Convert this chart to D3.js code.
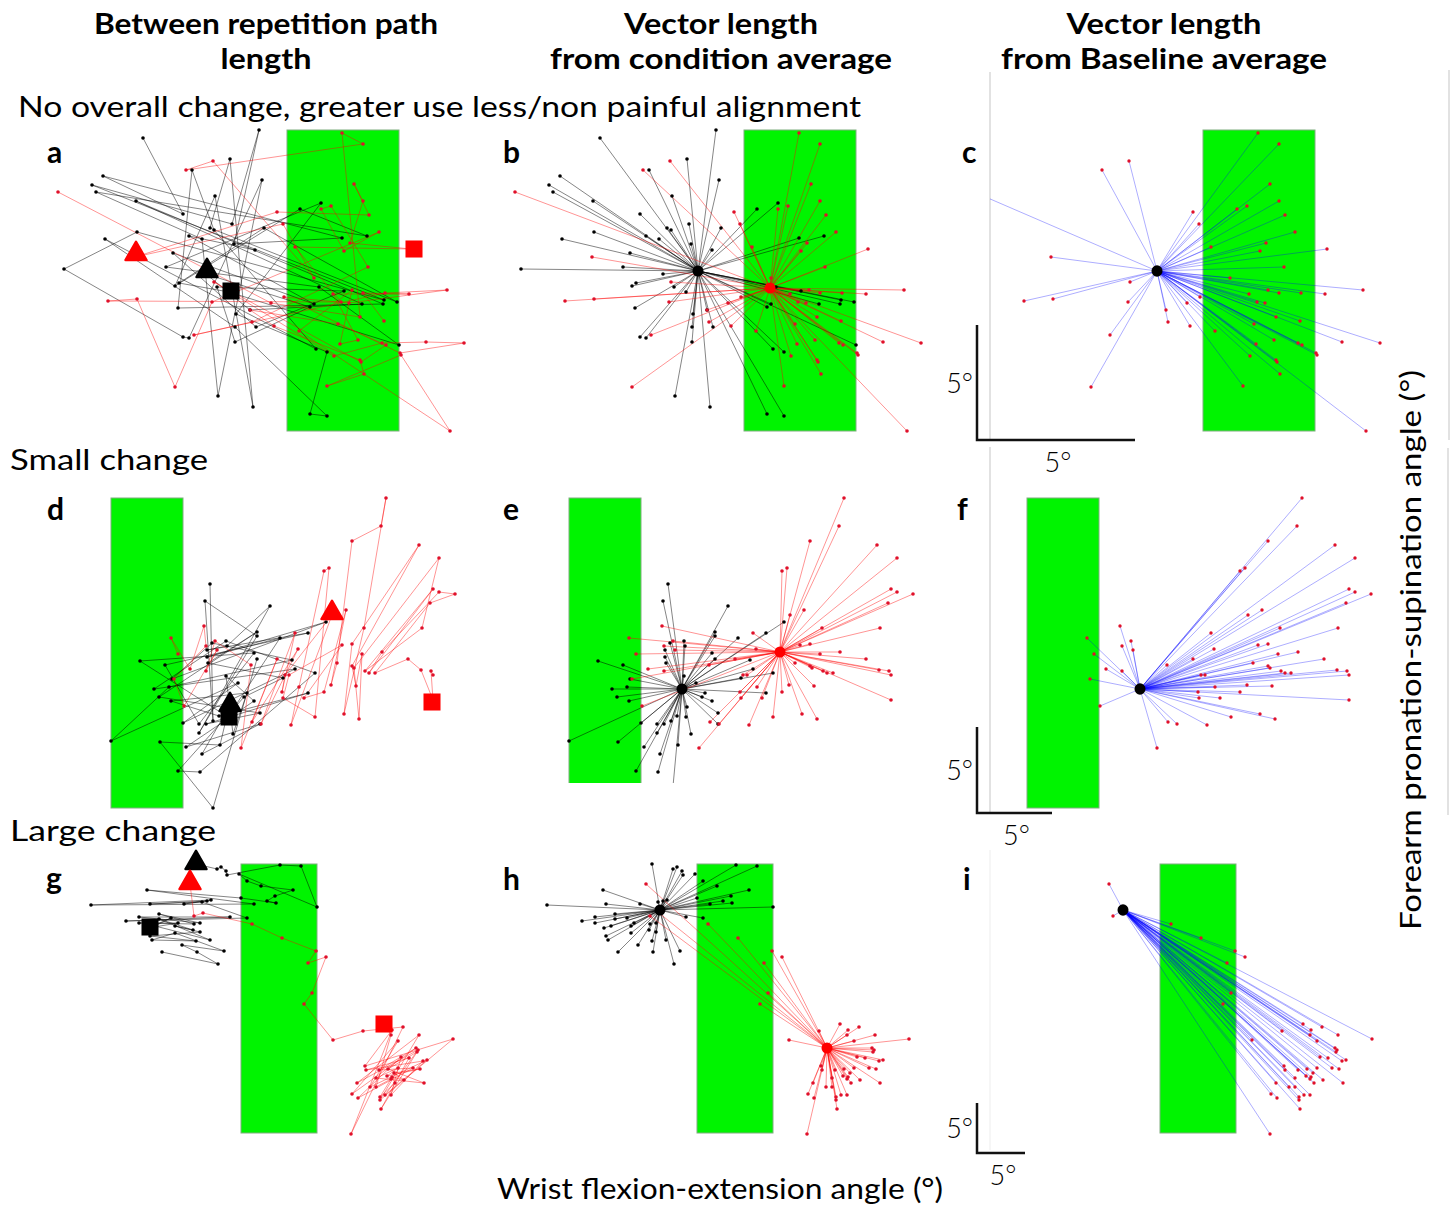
<!DOCTYPE html>
<meta charset="utf-8">
<style>
  body { margin: 0; background: #fff; }
  text { font-family: Lato, "Open Sans", sans-serif; }
</style>
<svg width="1451" height="1206"></svg>

<script src="https://d3js.org/d3.v7.min.js"></script>
<script>
// joint angles per repetition, chart units (x: flexion-extension, y: pronation-supination)
// listed in repetition order, so the path panels follow them point to point

// row 1: no overall change
var row1Black = [
  [10.0,1.3],[14.0,8.9],[6.0,5.1],[29.9,11.3],[19.1,11.9],[21.6,0.5],[18.9,9.9],[4.9,6.0],
  [34.1,17.5],[9.4,10.7],[2.1,14.4],[14.0,21.2],[14.6,21.3],[21.9,5.5],[17.5,27.1],[15.9,11.4],
  [5.3,6.7],[32.4,11.1],[25.7,8.4],[13.2,16.1],[17.2,7.1],[21.0,28.2],[18.7,3.4],[16.7,10.3],
  [35.4,17.7],[22.1,10.3],[13.6,15.8],[18.6,16.7],[35.6,22.0],[27.6,16.2],[12.3,14.2],[27.8,7.8],
  [19.3,18.9],[28.4,22.7],[26.7,28.9],[28.4,29.1],[19.2,20.2],[6.2,11.4],[27.3,22.4],[17.1,10.5],
  [14.9,4.5],[13.5,18.3],[34.0,17.9],[9.3,7.6],[31.9,17.9],[20.7,18.5],[16.3,14.9],[26.7,18.2],
  [19.2,21.7],[17.4,16.2],[30.1,16.6],[21.3,20.2],[13.0,12.8],[27.1,17.9],[14.6,11.1],[21.2,12.5]
]
var row1Red = [
  [1.5,6.7],[22.8,17.8],[31.7,19.2],[29.9,0.8],[32.0,1.9],[14.3,4.5],[17.0,3.6],[27.1,15.3],
  [24.0,9.9],[9.2,13.2],[23.4,8.7],[32.6,9.0],[31.1,5.9],[32.0,7.6],[30.7,11.8],[36.8,12.4],
  [25.2,12.2],[29.8,17.7],[6.5,17.6],[9.4,17.4],[13.2,26.2],[16.9,17.7],[33.6,10.7],[30.1,12.6],
  [27.8,8.4],[28.8,8.1],[32.5,14.2],[20.9,19.7],[15.1,21.0],[34.2,16.8],[40.4,16.5],[30.6,17.8],
  [24.1,17.2],[35.7,22.8],[42.1,21.8],[38.3,21.7],[33.9,21.8],[29.1,23.1],[17.1,15.7],[31.8,23.7],
  [34.3,22.0],[29.5,19.9],[20.7,18.5],[23.1,20.1],[31.7,23.5],[32.1,24.9],[28.4,26.1],[35.8,23.0],
  [40.7,30.6],[25.6,20.6],[30.9,16.5],[29.7,21.9],[31.5,21.5],[29.0,16.9],[36.6,16.9],[32.0,16.8],
  [34.1,19.6]
]
var row1Means = [[19.8,14.6],[27.0,16.3]]          // baseline (black), painful condition (red)
var row1Zone = [24.4,35.6,0.5,30.6]                // x0, x1, y0, y1 of the painful alignment
var row1Markers = [["red","triangle",9.3,12.9],["black","triangle",16.4,14.6],
                   ["black","square",18.8,16.6],["red","square",37.1,12.4]]
var row1Bar = [15.8,11.5]                          // 5 degrees in chart units (x, y)

// row 2: small change
var row2Black = [
  [16.8,9.4],[17.1,23.1],[16.3,11.1],[21.5,14.6],[15.7,24.3],[22.8,11.6],[18.5,15.6],[16.5,16.0],
  [26.6,14.3],[12.3,17.5],[15.7,23.4],[21.2,16.3],[9.8,17.1],[18.6,22.7],[23.8,14.8],[16.5,16.7],
  [28.4,13.2],[13.0,18.9],[17.0,15.3],[25.0,17.0],[12.7,19.7],[6.9,25.1],[19.6,19.3],[14.1,23.3],
  [25.3,17.9],[11.2,19.9],[18.4,15.1],[27.3,18.3],[15.8,28.2],[13.6,28.1],[20.2,20.7],[24.1,18.8],
  [16.6,17.3],[21.5,14.2],[11.7,20.7],[21.8,22.3],[16.4,23.4],[26.6,20.3],[17.7,22.6],[12.9,21.1],
  [20.5,20.3],[19.1,24.4],[18.4,18.6],[21.2,21.1],[14.4,25.7],[21.8,23.4],[16.0,26.4],[18.7,21.7],
  [17.8,25.5],[11.8,25.2],[17.1,31.8],[21.5,16.9]
]
var row2Red = [
  [13.6,16.4],[12.9,14.8],[14.8,17.9],[16.2,13.6],[16.4,15.6],[13.2,18.9],[14.2,21.6],[17.5,16.0],
  [16.4,18.1],[17.3,15.1],[20.9,17.5],[19.9,25.8],[23.5,16.9],[21.0,23.2],[25.6,15.9],[21.9,23.4],
  [25.3,14.3],[24.0,20.2],[24.3,18.5],[29.0,12.5],[24.9,23.5],[25.7,19.7],[28.2,8.1],[28.7,7.8],
  [27.3,22.7],[24.1,20.8],[24.7,18.5],[30.0,15.5],[26.2,20.8],[28.2,20.2],[30.4,12.0],[28.9,19.5],
  [29.5,17.3],[31.0,5.1],[33.9,3.6],[34.4,0.8],[32.2,13.8],[30.2,22.4],[31.0,15.4],[37.7,5.5],
  [31.0,17.6],[31.4,19.6],[32.0,16.4],[31.7,22.9],[31.2,17.8],[39.7,6.8],[38.0,13.8],[32.3,18.1],
  [39.1,9.9],[32.7,18.3],[34.0,16.2],[39.7,10.2],[41.3,10.4],[38.8,11.3],[33.3,18.3],[36.6,16.9],
  [37.9,18.0],[39.1,21.0],[38.9,18.1],[39.1,18.5]
]
var row2Means = [[18.2,19.9],[28.0,16.2]]
var row2Zone = [6.9,14.1,0.8,31.8]
var row2Markers = [["red","triangle",29.0,12.3],["red","square",39.0,21.2],
                   ["black","triangle",18.8,21.5],["black","square",18.7,22.7]]
var row2Bar = [7.5,8.6]

// row 3: large change
var row3Black = [
  [15.2,0.9],[17.3,1.4],[17.7,1.2],[18.2,1.6],[18.3,2.0],[23.6,1.0],[25.7,1.1],[27.3,5.2],
  [19.5,1.9],[20.3,2.6],[21.7,3.1],[24.9,3.5],[23.1,4.1],[22.3,4.6],[23.2,4.8],[19.7,4.3],
  [10.3,3.5],[21.0,4.9],[4.7,5.0],[16.7,4.5],[14.0,4.9],[16.3,4.6],[10.6,4.9],[15.8,4.7],
  [20.3,6.3],[8.2,6.6],[18.6,6.2],[9.5,6.2],[15.6,6.8],[11.5,5.9],[15.0,6.9],[9.5,6.8],
  [13.4,6.8],[10.4,7.3],[12.7,6.3],[11.1,7.1],[16.6,8.5],[11.5,6.4],[14.9,7.5],[13.1,7.1],
  [15.6,7.7],[10.6,8.1],[15.2,8.6],[10.8,8.5],[13.1,7.8],[18.0,9.6],[13.8,9.0],[15.3,9.7],
  [17.4,10.9],[11.8,9.7]
]
var row3Red = [
  [14.6,2.9],[15.0,6.1],[15.9,5.8],[20.8,6.9],[23.8,8.3],[27.2,9.6],[26.4,10.8],[28.2,10.2],
  [26.8,13.8],[26.0,14.9],[28.9,18.5],[31.9,17.6],[35.9,17.2],[30.7,27.9],[34.8,17.5],[32.1,21.1],
  [40.9,18.4],[33.6,24.5],[37.5,18.0],[31.3,22.8],[37.4,19.5],[34.1,24.0],[38.3,20.5],[32.6,23.2],
  [35.4,18.6],[30.8,23.9],[37.2,19.3],[33.5,21.5],[36.9,21.3],[31.4,24.3],[35.7,20.2],[34.7,24.0],
  [37.9,20.6],[32.2,21.5],[36.5,20.3],[33.7,25.4],[37.3,19.7],[34.4,21.4],[38.0,22.8],[33.2,22.3],
  [35.4,21.3],[34.3,22.1],[37.6,21.4],[35.0,21.8],[36.0,22.5],[34.8,22.2],[35.1,22.8],[33.6,24.2],
  [34.7,22.4],[33.2,23.2],[34.7,18.0],[34.0,16.9]
]
var row3Means = [[16.0,5.5],[32.7,19.3]]
var row3Zone = [19.7,27.3,0.9,27.8]
var row3Markers = [["black","triangle",15.2,0.8],["red","triangle",14.6,2.8],
                   ["black","square",10.6,7.2],["red","square",34.0,16.9]]
var row3Bar = [4.8,5.0]

var columnTitles = [["Between repetition path", "length"],
                    ["Vector length", "from condition average"],
                    ["Vector length", "from Baseline average"]]
var rowTitles = ["No overall change, greater use less/non painful alignment", "Small change", "Large change"]
var panelLetters = [["a","b","c"],["d","e","f"],["g","h","i"]]
var xTitle = "Wrist flexion-extension angle (°)"
var yTitle = "Forearm pronation-supination angle (°)"
var barLabel = "5°"

// layout (pixels)
var layout = [
  { top: 125, lefts: [43, 500, 959], clips: [null, null, { x0: 990 }], barAt: [1.8, 31.5],
    letters: [[47,163],[503,163],[962,163]], title: [18, 117, 843] },
  { top: 490, lefts: [42, 500, 958], clips: [null, { y1: 783 }, null], barAt: [1.9, 32.3],
    letters: [[47,520],[503,520],[957,520]], title: [10, 470, 198] },
  { top: 855, lefts: [44, 500, 963], clips: [null, null, null], barAt: [1.4, 29.8],
    letters: [[46,889],[503,890],[963,890]], title: [10, 841, 206] }
]
var rows = [
  { black: row1Black, red: row1Red, means: row1Means, zone: row1Zone, markers: row1Markers, bar: row1Bar },
  { black: row2Black, red: row2Red, means: row2Means, zone: row2Zone, markers: row2Markers, bar: row2Bar },
  { black: row3Black, red: row3Red, means: row3Means, zone: row3Zone, markers: row3Markers, bar: row3Bar }
]

var colors = {
  black: '#000', red: '#ff0000',
  blackLine: 'rgba(0,0,0,0.48)', redLine: 'rgba(255,0,0,0.42)', blueLine: 'rgba(0,0,255,0.32)',
  dotRed: '#e0102a', zone: '#00f400', zoneEdge: '#7fae7f'
}

var svg = d3.select('svg')
var defs = svg.append('defs')

// frame lines left over from the original layout
var frames = [[990,72,990,440,'#cfcfcf'],[990,447,990,812,'#cfcfcf'],[990,850,990,1150,'#f0f0f0'],
              [1449,70,1449,440,'#cfcfcf'],[1448,448,1448,815,'#cfcfcf']]
svg.selectAll('line.frame').data(frames).enter().append('line')
  .attr('class', 'frame')
  .attr('x1', function (d) { return d[0] }).attr('y1', function (d) { return d[1] })
  .attr('x2', function (d) { return d[2] }).attr('y2', function (d) { return d[3] })
  .attr('stroke', function (d) { return d[4] }).attr('stroke-width', 1.2)

var symbolType = { triangle: d3.symbolTriangle, square: d3.symbolSquare }
var symbolSize = { triangle: 190, square: 290 }

rows.forEach(function (row, r) {
  var lay = layout[r]

  lay.lefts.forEach(function (left, c) {
    var x = d3.scaleLinear().domain([0, 46]).range([left, left + 460])
    var y = d3.scaleLinear().domain([0, 32]).range([lay.top, lay.top + 320])

    // clip box for the panel
    var clip = lay.clips[c] || {}
    var clipId = 'clip-' + r + '-' + c
    defs.append('clipPath').attr('id', clipId).append('rect')
      .attr('x', clip.x0 || left - 60)
      .attr('y', lay.top - 60)
      .attr('width', (left + 520) - (clip.x0 || left - 60))
      .attr('height', (clip.y1 || lay.top + 380) - (lay.top - 60))

    var g = svg.append('g').attr('clip-path', 'url(#' + clipId + ')')

    // painful alignment zone
    g.append('rect')
      .attr('x', x(row.zone[0])).attr('y', y(row.zone[2]))
      .attr('width', x(row.zone[1]) - x(row.zone[0]))
      .attr('height', y(row.zone[3]) - y(row.zone[2]))
      .attr('fill', colors.zone).attr('stroke', colors.zoneEdge).attr('stroke-width', 1)

    var line = d3.line().x(function (d) { return x(d[0]) }).y(function (d) { return y(d[1]) })

    function spokes(points, center, stroke) {
      g.append('g').selectAll('line').data(points).enter().append('line')
        .attr('x1', x(center[0])).attr('y1', y(center[1]))
        .attr('x2', function (d) { return x(d[0]) })
        .attr('y2', function (d) { return y(d[1]) })
        .attr('stroke', stroke).attr('stroke-width', 1)
    }
    function dots(points, fill, rad) {
      g.append('g').selectAll('circle').data(points).enter().append('circle')
        .attr('cx', function (d) { return x(d[0]) })
        .attr('cy', function (d) { return y(d[1]) })
        .attr('r', rad).attr('fill', fill)
    }

    if (c === 0) {
      // between repetition paths
      g.append('path').datum(row.black).attr('d', line)
        .attr('fill', 'none').attr('stroke', colors.blackLine).attr('stroke-width', 1)
      g.append('path').datum(row.red).attr('d', line)
        .attr('fill', 'none').attr('stroke', colors.redLine).attr('stroke-width', 1)
      dots(row.black, colors.black, 1.8)
      dots(row.red, colors.dotRed, 1.8)
      g.selectAll('path.marker').data(row.markers).enter().append('path')
        .attr('class', 'marker')
        .attr('transform', function (d) { return 'translate(' + x(d[2]) + ',' + y(d[3]) + ')' })
        .attr('d', function (d) { return d3.symbol().type(symbolType[d[1]]).size(symbolSize[d[1]])() })
        .attr('fill', function (d) { return colors[d[0]] })
        .attr('stroke', function (d) { return colors[d[0]] })
        .attr('stroke-width', function (d) { return d[1] === 'triangle' ? 2.5 : 0 })
        .attr('stroke-linejoin', 'round')
    } else if (c === 1) {
      // vectors from each condition's own average
      spokes(row.black, row.means[0], colors.blackLine)
      spokes(row.red, row.means[1], colors.redLine)
      dots(row.black, colors.black, 1.8)
      dots(row.red, colors.dotRed, 1.8)
      g.append('circle').attr('cx', x(row.means[0][0])).attr('cy', y(row.means[0][1]))
        .attr('r', 5.5).attr('fill', colors.black)
      g.append('circle').attr('cx', x(row.means[1][0])).attr('cy', y(row.means[1][1]))
        .attr('r', 5.5).attr('fill', colors.red)
    } else {
      // vectors from the baseline average
      spokes(row.red, row.means[0], colors.blueLine)
      dots(row.red, colors.dotRed, 1.7)
      g.append('ellipse').attr('cx', x(row.means[0][0])).attr('cy', y(row.means[0][1]))
        .attr('rx', 5.5).attr('ry', 5.8).attr('fill', colors.black)

      // 5 degree scale bars
      var bx = x(lay.barAt[0]), by = y(lay.barAt[1])
      var bx2 = x(lay.barAt[0] + row.bar[0]), by2 = y(lay.barAt[1] - row.bar[1])
      var bars = svg.append('g')
      bars.append('path')
        .attr('d', 'M' + bx + ',' + by2 + 'V' + by + 'H' + bx2)
        .attr('fill', 'none').attr('stroke', '#111').attr('stroke-width', 2.5)
      bars.append('text').text(barLabel)
        .attr('x', bx - 4).attr('y', (by + by2) / 2 + 10)
        .attr('text-anchor', 'end').attr('font-size', 27).attr('font-weight', 300)
      bars.append('text').text(barLabel)
        .attr('x', (bx + bx2) / 2 + 2).attr('y', by + 32)
        .attr('text-anchor', 'middle').attr('font-size', 27).attr('font-weight', 300)
    }

    // panel letter
    svg.append('text').text(panelLetters[r][c])
      .attr('x', lay.letters[c][0]).attr('y', lay.letters[c][1])
      .attr('font-size', 30).attr('font-weight', 700)
  })

  // row caption
  svg.append('text').text(rowTitles[r])
    .attr('x', lay.title[0]).attr('y', lay.title[1])
    .attr('font-size', 29)
    .attr('textLength', lay.title[2]).attr('lengthAdjust', 'spacingAndGlyphs')
})

// column titles
var titleSpots = [[266, [344, 91]], [721, [194, 342]], [1164, [195, 326]]]
columnTitles.forEach(function (lines, i) {
  lines.forEach(function (t, k) {
    svg.append('text').text(t)
      .attr('x', titleSpots[i][0]).attr('y', 34 + k * 35)
      .attr('text-anchor', 'middle')
      .attr('font-size', 28).attr('font-weight', 700)
      .attr('textLength', titleSpots[i][1][k]).attr('lengthAdjust', 'spacingAndGlyphs')
  })
})

// axis titles
svg.append('text').text(xTitle)
  .attr('x', 720).attr('y', 1199)
  .attr('text-anchor', 'middle').attr('font-size', 29)
  .attr('textLength', 446).attr('lengthAdjust', 'spacingAndGlyphs')

svg.append('text').text(yTitle)
  .attr('transform', 'translate(1421,650) rotate(-90)')
  .attr('text-anchor', 'middle').attr('font-size', 29)
  .attr('textLength', 560).attr('lengthAdjust', 'spacingAndGlyphs')
</script>
